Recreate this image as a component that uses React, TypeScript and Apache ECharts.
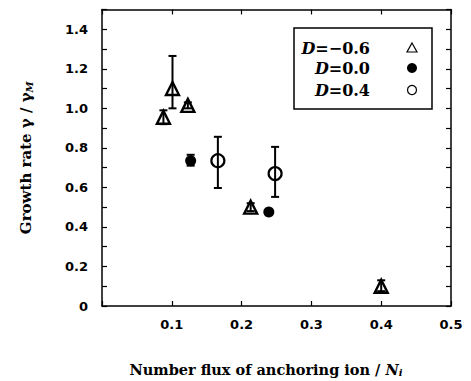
import React, { useEffect, useRef } from "react";
import * as echarts from "echarts";

// D = -0.6 (open triangles)
const dNeg06X = [0.088, 0.101, 0.123, 0.213, 0.4];
const dNeg06Y = [0.955, 1.1, 1.015, 0.5, 0.1];
const dNeg06Lo = [0.92, 1.0, 1.0, 0.48, 0.075];
const dNeg06Hi = [0.99, 1.265, 1.03, 0.52, 0.13];

// D = 0.0 (filled circles)
const d00X = [0.127, 0.239];
const d00Y = [0.735, 0.475];
const d00Lo = [0.71, 0.475];
const d00Hi = [0.765, 0.475];

// D = 0.4 (open circles)
const d04X = [0.166, 0.248];
const d04Y = [0.735, 0.67];
const d04Lo = [0.597, 0.552];
const d04Hi = [0.856, 0.805];

const legendLabels = ["-0.6", "0.0", "0.4"];
const xTitle = "Number flux of anchoring ion / ";
const yTitle = "Growth rate γ / γ";

const pts = (xs: number[], ys: number[]) => xs.map((x, i) => [x, ys[i]]);
const errs = (xs: number[], lo: number[], hi: number[]) =>
  xs.map((x, i) => [x, lo[i], hi[i]]);

const SERIF = "'DejaVu Serif', 'Liberation Serif', serif";
const SANS = "'DejaVu Sans', 'Liberation Sans', sans-serif";

function errorSeries(data: number[][]) {
  return {
    type: "custom",
    xAxisIndex: 0,
    yAxisIndex: 0,
    z: 1,
    silent: true,
    data,
    renderItem: (params: any, api: any) => {
      const x = api.value(0);
      const lo = api.coord([x, api.value(1)]);
      const hi = api.coord([x, api.value(2)]);
      const cap = 4;
      const style = { stroke: "#000", lineWidth: 2 };
      return {
        type: "group",
        children: [
          { type: "line", shape: { x1: lo[0], y1: lo[1], x2: hi[0], y2: hi[1] }, style },
          { type: "line", shape: { x1: lo[0] - cap, y1: lo[1], x2: lo[0] + cap, y2: lo[1] }, style },
          { type: "line", shape: { x1: hi[0] - cap, y1: hi[1], x2: hi[0] + cap, y2: hi[1] }, style },
        ],
      };
    },
  };
}

export default function App() {
  const ref = useRef<HTMLDivElement>(null);
  useEffect(() => {
    if (!ref.current) return;
    const chart = echarts.init(ref.current, null, { renderer: "svg" });
    const axisLine = { show: true, onZero: false, lineStyle: { color: "#000", width: 1.5 } };
    const tick = { show: true, inside: true, length: 5, lineStyle: { color: "#000", width: 1.2 } };
    const legendRows = [48, 68, 90];
    const legendText = legendLabels.map((v, i) => ({
      type: "text",
      x: 370,
      y: legendRows[i],
      style: {
        text: "{i|D}=" + (v.startsWith("-") ? "\u2212" + v.slice(1) : v),
        align: "right",
        verticalAlign: "middle",
        font: `bold 16px ${SERIF}`,
        fill: "#000",
        rich: {
          i: { font: `italic bold 16px ${SERIF}`, fill: "#000" },
        },
      },
    }));
    chart.setOption({
      animation: false,
      backgroundColor: "#fff",
      grid: { left: 102, right: 20, top: 9.5, bottom: 75, containLabel: false },
      xAxis: [
        {
          type: "value",
          min: 0,
          max: 0.5,
          interval: 0.1,
          axisLine,
          axisTick: tick,
          splitLine: { show: false },
          axisLabel: {
            margin: 12,
            color: "#000",
            fontFamily: SANS,
            fontWeight: "bold",
            fontSize: 13,
            formatter: (v: number) => (v < 0.05 ? "" : v.toFixed(1)),
          },
        },
        {
          type: "value",
          position: "top",
          min: 0,
          max: 0.5,
          interval: 0.1,
          axisLine,
          axisTick: tick,
          axisLabel: { show: false },
          splitLine: { show: false },
        },
      ],
      yAxis: [
        {
          type: "value",
          min: 0,
          max: 1.5,
          interval: 0.1,
          axisLine,
          axisTick: tick,
          splitLine: { show: false },
          name: "{t|" + yTitle + "}{s|M}",
          nameLocation: "middle",
          nameGap: 68,
          nameRotate: 90,
          nameTextStyle: {
            rich: {
              t: { fontFamily: SERIF, fontWeight: "bold", fontSize: 15, color: "#000" },
              s: { fontFamily: SERIF, fontWeight: "bold", fontStyle: "italic", fontSize: 10, color: "#000", padding: [6, 0, 0, 0] },
            },
          },
          axisLabel: {
            margin: 14,
            color: "#000",
            fontFamily: SANS,
            fontWeight: "bold",
            fontSize: 13,
            formatter: (v: number) => {
              const k = Math.round(v * 10);
              if (k === 0) return "0";
              if (k % 2 !== 0 || k > 14) return "";
              return v.toFixed(1);
            },
          },
        },
        {
          type: "value",
          position: "right",
          min: 0,
          max: 1.5,
          interval: 0.1,
          axisLine,
          axisTick: tick,
          axisLabel: { show: false },
          splitLine: { show: false },
        },
      ],
      series: [
        errorSeries(errs(dNeg06X, dNeg06Lo, dNeg06Hi)),
        errorSeries(errs(d00X, d00Lo, d00Hi)),
        errorSeries(errs(d04X, d04Lo, d04Hi)),
        {
          type: "scatter",
          name: "D=-0.6",
          z: 3,
          symbol: "triangle",
          symbolSize: 13,
          data: pts(dNeg06X, dNeg06Y),
          itemStyle: { color: "rgba(255,255,255,0)", borderColor: "#000", borderWidth: 2.4, opacity: 1 },
        },
        {
          type: "scatter",
          name: "D=0.0",
          z: 3,
          symbol: "circle",
          symbolSize: 11,
          data: pts(d00X, d00Y),
          itemStyle: { color: "#000", opacity: 1 },
        },
        {
          type: "scatter",
          name: "D=0.4",
          z: 3,
          symbol: "circle",
          symbolSize: 13,
          data: pts(d04X, d04Y),
          itemStyle: { color: "rgba(255,255,255,0)", borderColor: "#000", borderWidth: 2.2, opacity: 1 },
        },
      ],
      graphic: [
        {
          type: "rect",
          shape: { x: 294, y: 28, width: 138, height: 81 },
          style: { fill: "#fff", stroke: "#000", lineWidth: 1.5 },
          z: 10,
        },
        ...legendText.map((t) => ({ ...t, z: 11 })),
        {
          type: "polygon",
          shape: { points: [[412, 43], [417, 52], [407, 52]] },
          style: { fill: "#fff", stroke: "#000", lineWidth: 1.2 },
          z: 11,
        },
        {
          type: "circle",
          shape: { cx: 412, cy: 68, r: 5 },
          style: { fill: "#000" },
          z: 11,
        },
        {
          type: "circle",
          shape: { cx: 412, cy: 90, r: 4.5 },
          style: { fill: "#fff", stroke: "#000", lineWidth: 1.2 },
          z: 11,
        },
        {
          type: "text",
          x: 266,
          y: 369,
          style: {
            text: "{t|" + xTitle + "}{n|N}{s|i}",
            align: "center",
            verticalAlign: "middle",
            rich: {
              t: { fontFamily: SERIF, fontWeight: "bold", fontSize: 14.5, fill: "#000" },
              n: { fontFamily: SERIF, fontWeight: "bold", fontStyle: "italic", fontSize: 14.5, fill: "#000" },
              s: { fontFamily: SERIF, fontWeight: "bold", fontStyle: "italic", fontSize: 10, fill: "#000", padding: [6, 0, 0, 0] },
            },
          },
        },
      ],
    });
    return () => chart.dispose();
  }, []);
  return (
    <div
      ref={ref}
      style={{ position: "fixed", left: 0, top: 0, width: 471, height: 381 }}
    />
  );
}
